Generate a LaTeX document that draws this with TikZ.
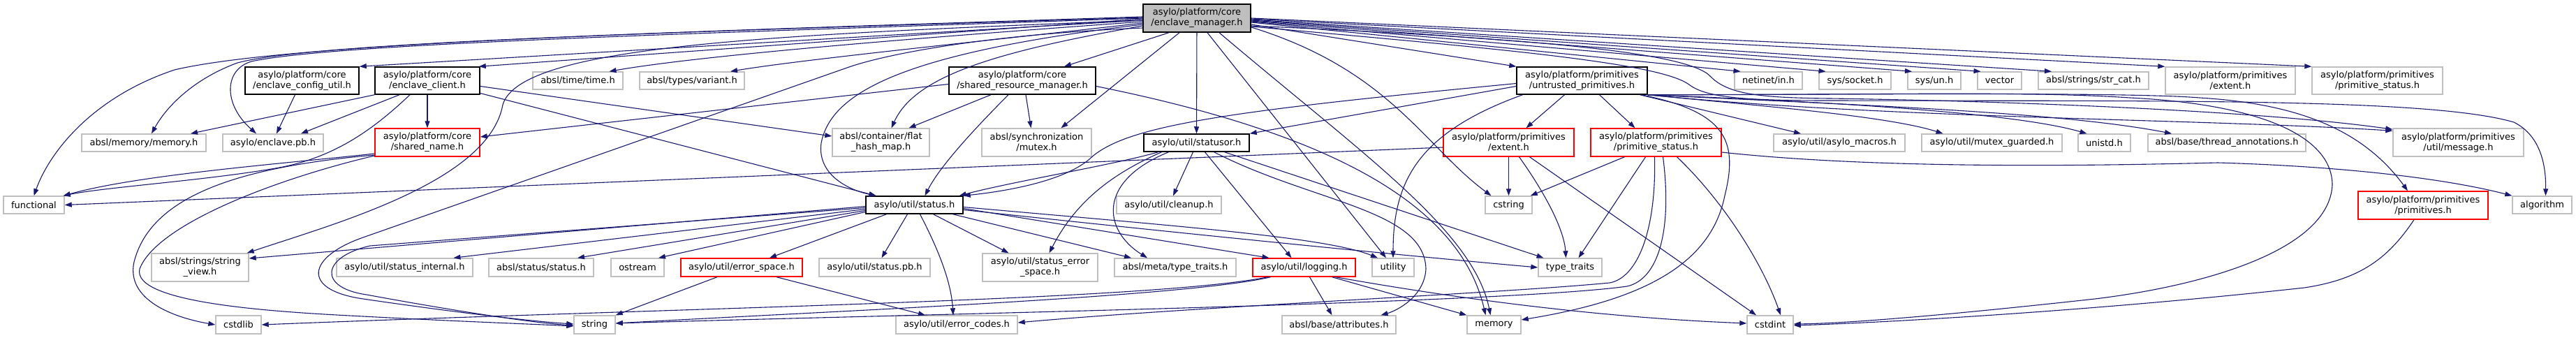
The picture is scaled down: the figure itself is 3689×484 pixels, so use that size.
\documentclass[tikz,border=0pt]{standalone}
\usepackage{fontspec}
\setmainfont{DejaVu Sans}
\usetikzlibrary{arrows.meta}
\definecolor{extgray}{RGB}{191,191,191}
\definecolor{edgeblue}{RGB}{25,25,112}
\definecolor{truncred}{RGB}{255,0,0}
\tikzset{
  nbase/.style={rectangle, inner sep=0pt, align=center, font=\fontsize{13}{15}\selectfont, line width=1.4pt},
  nodeext/.style={nbase, draw=extgray},
  nodedoc/.style={nbase, draw=black, line width=1.5pt},
  nodered/.style={nbase, draw=truncred},
  noderoot/.style={nbase, draw=black, line width=1.5pt, fill=extgray},
  edg/.style={draw=edgeblue, line width=1.1pt, -{Triangle[length=10pt,width=7pt]}},
}
\begin{document}
\begin{tikzpicture}[x=1pt,y=-1pt]
\fill[white] (0,0) rectangle (3689,484);
\useasboundingbox (0,0) rectangle (3689,484);
% ---------------- row 0
\node[noderoot, minimum width=154pt, minimum height=40pt] (n0) at (1714,26) {asylo/platform/core\\/enclave\_manager.h};
% ---------------- row 1
\node[nodedoc, minimum width=163pt, minimum height=39pt] (cfgutil) at (432.5,115.5) {asylo/platform/core\\/enclave\_config\_util.h};
\node[nodedoc, minimum width=150pt, minimum height=39pt] (client) at (612,115.5) {asylo/platform/core\\/enclave\_client.h};
\node[nodeext, minimum width=129pt, minimum height=25pt] (time) at (827.5,115.5) {absl/time/time.h};
\node[nodeext, minimum width=150pt, minimum height=25pt] (variant) at (991,115.5) {absl/types/variant.h};
\node[nodedoc, minimum width=210pt, minimum height=39pt] (srm) at (1464,115.5) {asylo/platform/core\\/shared\_resource\_manager.h};
\node[nodedoc, minimum width=187pt, minimum height=39pt] (untrusted) at (2265.5,115.5) {asylo/platform/primitives\\/untrusted\_primitives.h};
\node[nodeext, minimum width=97pt, minimum height=25pt] (netinet) at (2532.5,115.5) {netinet/in.h};
\node[nodeext, minimum width=103pt, minimum height=25pt] (socket) at (2656.5,115.5) {sys/socket.h};
\node[nodeext, minimum width=76pt, minimum height=25pt] (un) at (2770,115.5) {sys/un.h};
\node[nodeext, minimum width=63pt, minimum height=25pt] (vector) at (2863.5,115.5) {vector};
\node[nodeext, minimum width=158pt, minimum height=25pt] (strcat) at (2998,115.5) {absl/strings/str\_cat.h};
\node[nodeext, minimum width=186pt, minimum height=39pt] (extentG) at (3194,115.5) {asylo/platform/primitives\\/extent.h};
\node[nodeext, minimum width=187pt, minimum height=39pt] (pstatusG) at (3404.5,115.5) {asylo/platform/primitives\\/primitive\_status.h};
% ---------------- row 2
\node[nodeext, minimum width=178pt, minimum height=25pt] (memoryh) at (206,204.5) {absl/memory/memory.h};
\node[nodeext, minimum width=144pt, minimum height=25pt] (enclavepb) at (391,204.5) {asylo/enclave.pb.h};
\node[nodered, minimum width=150pt, minimum height=40pt] (sharedname) at (612,204) {asylo/platform/core\\/shared\_name.h};
\node[nodeext, minimum width=139pt, minimum height=40pt] (flathash) at (1261.5,204) {absl/container/flat\\\_hash\_map.h};
\node[nodeext, minimum width=157pt, minimum height=40pt] (mutex) at (1484.5,204) {absl/synchronization\\/mutex.h};
\node[nodedoc, minimum width=151pt, minimum height=25pt] (statusor) at (1713.5,204.5) {asylo/util/statusor.h};
\node[nodered, minimum width=187pt, minimum height=40pt] (extentR) at (2160.5,204) {asylo/platform/primitives\\/extent.h};
\node[nodered, minimum width=187pt, minimum height=40pt] (pstatusR) at (2371.5,204) {asylo/platform/primitives\\/primitive\_status.h};
\node[nodeext, minimum width=188pt, minimum height=25pt] (macros) at (2634,204.5) {asylo/util/asylo\_macros.h};
\node[nodeext, minimum width=201pt, minimum height=25pt] (mguard) at (2852.5,204.5) {asylo/util/mutex\_guarded.h};
\node[nodeext, minimum width=75pt, minimum height=25pt] (unistd) at (3013.5,204.5) {unistd.h};
\node[nodeext, minimum width=226pt, minimum height=25pt] (threadann) at (3189,204.5) {absl/base/thread\_annotations.h};
\node[nodeext, minimum width=187pt, minimum height=40pt] (message) at (3520.5,204) {asylo/platform/primitives\\/util/message.h};
% ---------------- row 3
\node[nodeext, minimum width=87pt, minimum height=25pt] (functional) at (48.5,293.5) {functional};
\node[nodedoc, minimum width=139pt, minimum height=25pt] (status) at (1309.5,293.5) {asylo/util/status.h};
\node[nodeext, minimum width=150pt, minimum height=25pt] (cleanup) at (1674,293.5) {asylo/util/cleanup.h};
\node[nodeext, minimum width=67pt, minimum height=25pt] (cstring) at (2160.5,293.5) {cstring};
\node[nodered, minimum width=186pt, minimum height=40pt] (primitives) at (3470,294) {asylo/platform/primitives\\/primitives.h};
\node[nodeext, minimum width=85pt, minimum height=25pt] (algorithm) at (3640.5,293.5) {algorithm};
% ---------------- row 4
\node[nodeext, minimum width=139pt, minimum height=40pt] (stringview) at (286.5,383) {absl/strings/string\\\_view.h};
\node[nodeext, minimum width=195pt, minimum height=26pt] (sinternal) at (579.5,383) {asylo/util/status\_internal.h};
\node[nodeext, minimum width=150pt, minimum height=26pt] (abslstatus) at (775,383) {absl/status/status.h};
\node[nodeext, minimum width=76pt, minimum height=26pt] (ostream) at (913,383) {ostream};
\node[nodered, minimum width=174pt, minimum height=26pt] (errspace) at (1062,383) {asylo/util/error\_space.h};
\node[nodeext, minimum width=159pt, minimum height=26pt] (statuspb) at (1252.5,383) {asylo/util/status.pb.h};
\node[nodeext, minimum width=165pt, minimum height=40pt] (ses) at (1489.5,383) {asylo/util/status\_error\\\_space.h};
\node[nodeext, minimum width=174pt, minimum height=26pt] (meta) at (1683,383) {absl/meta/type\_traits.h};
\node[nodered, minimum width=147pt, minimum height=26pt] (logging) at (1867.5,383) {asylo/util/logging.h};
\node[nodeext, minimum width=60pt, minimum height=26pt] (utility) at (1995,383) {utility};
\node[nodeext, minimum width=91pt, minimum height=26pt] (typetraits) at (2248.5,383) {type\_traits};
% ---------------- row 5
\node[nodeext, minimum width=65pt, minimum height=26pt] (cstdlib) at (341.5,465) {cstdlib};
\node[nodeext, minimum width=59pt, minimum height=26pt] (string) at (851.5,465) {string};
\node[nodeext, minimum width=174pt, minimum height=26pt] (errcodes) at (1370,465) {asylo/util/error\_codes.h};
\node[nodeext, minimum width=163pt, minimum height=26pt] (attributes) at (1917.5,465) {absl/base/attributes.h};
\node[nodeext, minimum width=77pt, minimum height=26pt] (memory) at (2139.5,465) {memory};
\node[nodeext, minimum width=66pt, minimum height=26pt] (cstdint) at (2535,465) {cstdint};

% ================= edges from enclave_manager (left side)
\draw[edg] ([yshift=-3pt]n0.west) -- (cfgutil.north east);
\draw[edg] ([yshift=-1pt]n0.west) -- ([xshift=-2pt]client.north east);
\draw[edg] ([yshift=-5pt]n0.west) .. controls (1300,55) and (1000,80) .. ([xshift=45pt]time.north);
\draw[edg] ([yshift=-7pt]n0.west) .. controls (1400,60) and (1150,85) .. ([xshift=55pt]variant.north);
\draw[edg] ([xshift=-40pt]n0.south) -- ([xshift=60pt]srm.north);
\draw[edg] ([yshift=-11pt]n0.west) .. controls (1420,75) and (1310,110) .. ([xshift=15pt]flathash.north);
\draw[edg] ([xshift=-25pt]n0.south) -- ([xshift=35pt]mutex.north);
\draw[edg] (n0) -- (statusor);
\draw[edg] ([yshift=-9pt]n0.west) .. controls (1300,75) and (1190,130) .. (1176,205) .. controls (1170,250) and (1215,272) .. ([xshift=-55pt]status.north);
\draw[edg] ([yshift=2pt]n0.west) .. controls (1000,45) and (420,60) .. (250,100) .. controls (130,140) and (70,220) .. (functional.north);
\draw[edg] ([yshift=1pt]n0.west) .. controls (1000,45) and (450,60) .. (340,90) .. controls (280,112) and (240,150) .. ([xshift=11pt]memoryh.north);
\draw[edg] (n0.west) .. controls (1000,48) and (480,62) .. (360,88) .. controls (320,100) and (320,150) .. ([xshift=-24pt]enclavepb.north);
\draw[edg] ([yshift=-3pt]n0.west) .. controls (1100,50) and (745,65) .. (720,150) .. controls (700,260) and (480,320) .. ([xshift=-3pt]stringview.north east);
\draw[edg] ([yshift=-14pt]n0.west) .. controls (1400,50) and (1260,80) .. (1213,97) -- (520,340) .. controls (440,368) and (430,415) .. (520,428) .. controls (650,447) and (760,460) .. ([yshift=1pt]string.west);
% enclave_manager (below / right)
\draw[edg] ([xshift=15pt]n0.south) -- ([xshift=-10pt]utility.north);
\draw[edg] ([xshift=32pt]n0.south) .. controls (1950,220) and (2110,330) .. ([xshift=-5pt]memory.north);
\draw[edg] ([yshift=-13pt]n0.east) .. controls (1990,100) and (2040,210) .. ([xshift=-25pt]cstring.north);
\draw[edg] ([yshift=-9pt]n0.east) -- (untrusted.north west);
\draw[edg] ([yshift=-6pt]n0.east) -- ([xshift=-40pt]netinet.north);
\draw[edg] ([yshift=-5pt]n0.east) -- ([xshift=-42pt]socket.north);
\draw[edg] ([yshift=-4pt]n0.east) -- ([xshift=-32pt]un.north);
\draw[edg] ([yshift=-3pt]n0.east) -- ([xshift=-27pt]vector.north);
\draw[edg] ([yshift=-2pt]n0.east) -- ([xshift=-60pt]strcat.north);
\draw[edg] ([yshift=-1pt]n0.east) -- (extentG.north west);
\draw[edg] (n0.east) -- (pstatusG.north west);
\draw[edg] ([yshift=-11pt]n0.east) .. controls (2200,55) and (2420,75) .. (2450,110) .. controls (2475,135) and (2520,140) .. (2620,141) .. controls (2900,145) and (3250,160) .. ([yshift=-2pt]message.north west);
\draw[edg] ([yshift=-12pt]n0.east) .. controls (2150,70) and (2380,90) .. (2420,122) .. controls (2445,140) and (2500,144) .. (2620,144) .. controls (3100,145) and (3480,140) .. (3600,175) .. controls (3640,195) and (3646,240) .. ([xshift=5pt]algorithm.north);

% ================= untrusted_primitives
\draw[edg] ([xshift=83pt]untrusted.south) -- ([xshift=-55pt]macros.north);
\draw[edg] (untrusted.south east) .. controls (2500,150) and (2700,165) .. ([xshift=-70pt]mguard.north);
\draw[edg] (untrusted.south east) .. controls (2600,145) and (2880,160) .. ([xshift=-25pt]unistd.north);
\draw[edg] (untrusted.south east) .. controls (2650,150) and (2950,160) .. ([xshift=-79pt]threadann.north);
\draw[edg] (untrusted.south east) .. controls (2700,170) and (3150,170) .. ([yshift=-4pt]message.north west);
\draw[edg] (untrusted.south east) .. controls (2700,135) and (3050,132) .. (3150,140) .. controls (3280,148) and (3380,180) .. ([xshift=-22pt]primitives.north);
\draw[edg] (untrusted.south east) .. controls (2700,136) and (2900,130) .. (3050,140) .. controls (3250,150) and (3340,200) .. (3340,265) .. controls (3335,360) and (3150,410) .. (3000,428) .. controls (2800,450) and (2650,463) .. ([yshift=1pt]cstdint.east);
\draw[edg] ([xshift=85pt]untrusted.south) .. controls (2470,160) and (2490,200) .. (2470,280) .. controls (2450,380) and (2350,430) .. ([yshift=7pt]memory.east);
\draw[edg] ([yshift=-4pt]untrusted.west) .. controls (1750,160) and (1610,180) .. (1560,228) .. controls (1520,262) and (1430,275) .. (status.north east);
\draw[edg] ([yshift=-8pt]untrusted.west) -- (statusor.north east);
\draw[edg] ([xshift=-85pt]untrusted.south) .. controls (2030,190) and (1995,260) .. (utility.north);
\draw[edg] ([xshift=-25pt]untrusted.south) -- ([xshift=25pt]extentR.north);
\draw[edg] ([xshift=25pt]untrusted.south) -- ([xshift=-30pt]pstatusR.north);

% ================= extent.h (red)
\draw[edg] (extentR) -- (cstring);
\draw[edg] ([xshift=15pt]extentR.south) .. controls (2215,280) and (2240,330) .. ([xshift=-6pt]typetraits.north);
\draw[edg] ([xshift=30pt]extentR.south) -- ([xshift=-20pt]cstdint.north);
\draw[edg] ([yshift=-7pt]extentR.west) -- (functional.east);

% ================= primitive_status.h (red)
\draw[edg] ([xshift=-45pt]pstatusR.south) -- ([xshift=-3pt]cstring.north east);
\draw[edg] ([xshift=-15pt]pstatusR.south) -- ([xshift=12pt]typetraits.north);
\draw[edg] ([xshift=30pt]pstatusR.south) .. controls (2470,290) and (2525,380) .. ([xshift=15pt]cstdint.north);
\draw[edg] ([yshift=-14pt]pstatusR.east) .. controls (2650,238) and (2900,240) .. (3176,233) .. controls (3350,238) and (3500,255) .. (algorithm.north west);
\draw[edg] ([xshift=-2pt]pstatusR.south) .. controls (2372,330) and (2345,398) .. (2305,405) .. controls (2150,420) and (1700,440) .. ([yshift=3pt]errcodes.east);
\draw[edg] ([xshift=10pt]pstatusR.south) .. controls (2395,330) and (2375,400) .. (2330,410) .. controls (2150,435) and (1300,450) .. ([yshift=2pt]string.east);

% ================= primitives.h
\draw[edg] ([xshift=-13pt]primitives.south) .. controls (3420,370) and (3380,400) .. (3300,412) .. controls (3000,445) and (2700,462) .. ([yshift=-1pt]cstdint.east);

% ================= statusor.h
\draw[edg] ([xshift=-55pt]statusor.south) .. controls (1600,235) and (1450,260) .. ([xshift=-6pt]status.north east);
\draw[edg] ([xshift=-5pt]statusor.south) -- ([xshift=6pt]cleanup.north);
\draw[edg] ([xshift=12pt]statusor.south) -- ([xshift=-18pt]logging.north);
\draw[edg] ([xshift=40pt]statusor.south) -- ([xshift=-38pt]typetraits.north);
\draw[edg] ([xshift=25pt]statusor.south) .. controls (1880,290) and (2040,300) .. (2042,385) .. controls (2040,425) and (2000,445) .. ([xshift=60pt]attributes.north);
\draw[edg] ([xshift=-40pt]statusor.south) .. controls (1570,260) and (1580,330) .. ([xshift=-40pt]meta.north);
\draw[edg] ([xshift=-50pt]statusor.south) .. controls (1590,250) and (1540,290) .. ([xshift=13pt]ses.north);

% ================= status.h
\draw[edg] ([yshift=-2pt]status.west) -- ([yshift=13pt]stringview.east);
\draw[edg] ([yshift=-6pt]status.west) -- ([xshift=70pt]sinternal.north);
\draw[edg] ([yshift=-8pt]status.west) -- ([xshift=52pt]abslstatus.north);
\draw[edg] ([yshift=-10pt]status.west) -- ([xshift=30pt]ostream.north);
\draw[edg] ([yshift=-4pt]status.west) -- (530,352) .. controls (460,368) and (455,412) .. (525,422) .. controls (650,445) and (760,462) .. ([yshift=-1pt]string.west);
\draw[edg] ([xshift=-40pt]status.south) -- ([xshift=40pt]errspace.north);
\draw[edg] ([xshift=-10pt]status.south) -- ([xshift=10pt]statuspb.north);
\draw[edg] ([xshift=8pt]status.south) .. controls (1340,350) and (1362,400) .. ([xshift=-5pt]errcodes.north);
\draw[edg] ([xshift=27pt]status.south) -- ([xshift=-45pt]ses.north);
\draw[edg] ([xshift=55pt]status.south) -- ([xshift=-63pt]meta.north);
\draw[edg] ([yshift=-5pt]status.east) -- ([xshift=-50pt]logging.north);
\draw[edg] ([yshift=-3pt]status.east) .. controls (1700,325) and (1900,340) .. ([xshift=-22pt]utility.north);
\draw[edg] ([yshift=-7pt]status.east) .. controls (1700,335) and (2000,365) .. (typetraits.west);

% ================= shared_resource_manager.h
\draw[edg] ([yshift=-5pt]srm.west) -- ([yshift=8pt]sharedname.east);
\draw[edg] ([xshift=-45pt]srm.south) -- ([xshift=40pt]flathash.north);
\draw[edg] ([xshift=5pt]srm.south) -- ([xshift=-8pt]mutex.north);
\draw[edg] ([xshift=-20pt]srm.south) .. controls (1390,190) and (1345,240) .. ([xshift=15pt]status.north);
\draw[edg] ([yshift=-8pt]srm.east) .. controls (1900,190) and (2090,290) .. ([xshift=-12pt]memory.north);

% ================= enclave_client.h
\draw[edg] (client) -- (sharedname);
\draw[edg] (client.south west) -- ([xshift=67pt]memoryh.north);
\draw[edg] ([xshift=-40pt]client.south) -- ([xshift=40pt]enclavepb.north);
\draw[edg] ([xshift=-25pt]client.south) .. controls (535,185) and (480,225) .. (400,240) .. controls (300,258) and (150,268) .. ([xshift=-2pt]functional.north east);
\draw[edg] ([yshift=-8pt]client.east) -- ([yshift=9pt]flathash.west);
\draw[edg] ([yshift=-18pt]client.east) -- ([xshift=-55pt]status.north);

% ================= enclave_config_util.h
\draw[edg] ([xshift=-10pt]cfgutil.south) -- ([xshift=5pt]enclavepb.north);

% ================= shared_name.h
\draw[edg] ([yshift=-16pt]sharedname.west) .. controls (400,235) and (200,250) .. ([xshift=-2pt]functional.north east);
\draw[edg] ([yshift=-18pt]sharedname.west) .. controls (330,240) and (215,285) .. (192,375) .. controls (180,430) and (250,455) .. (cstdlib.west);
\draw[edg] ([yshift=-19pt]sharedname.west) .. controls (400,255) and (225,320) .. (200,385) .. controls (188,435) and (400,447) .. (520,453) .. controls (650,460) and (760,464) .. ([yshift=-2pt]string.west);

% ================= error_space.h
\draw[edg] ([xshift=-35pt]errspace.south) -- (string.north east);
\draw[edg] ([xshift=50pt]errspace.south) -- ([xshift=-45pt]errcodes.north);

% ================= logging.h
\draw[edg] ([xshift=8pt]logging.south) -- ([xshift=-10pt]attributes.north);
\draw[edg] ([xshift=40pt]logging.south) -- (memory.north west);
\draw[edg] ([xshift=45pt]logging.south) .. controls (2100,430) and (2300,455) .. ([yshift=2pt]cstdint.west);
\draw[edg] ([xshift=-48pt]logging.south) .. controls (1700,425) and (1200,445) .. ([yshift=2pt]string.east);
\draw[edg] ([xshift=-52pt]logging.south) .. controls (1650,430) and (1000,440) .. (cstdlib.east);
\end{tikzpicture}
\end{document}
